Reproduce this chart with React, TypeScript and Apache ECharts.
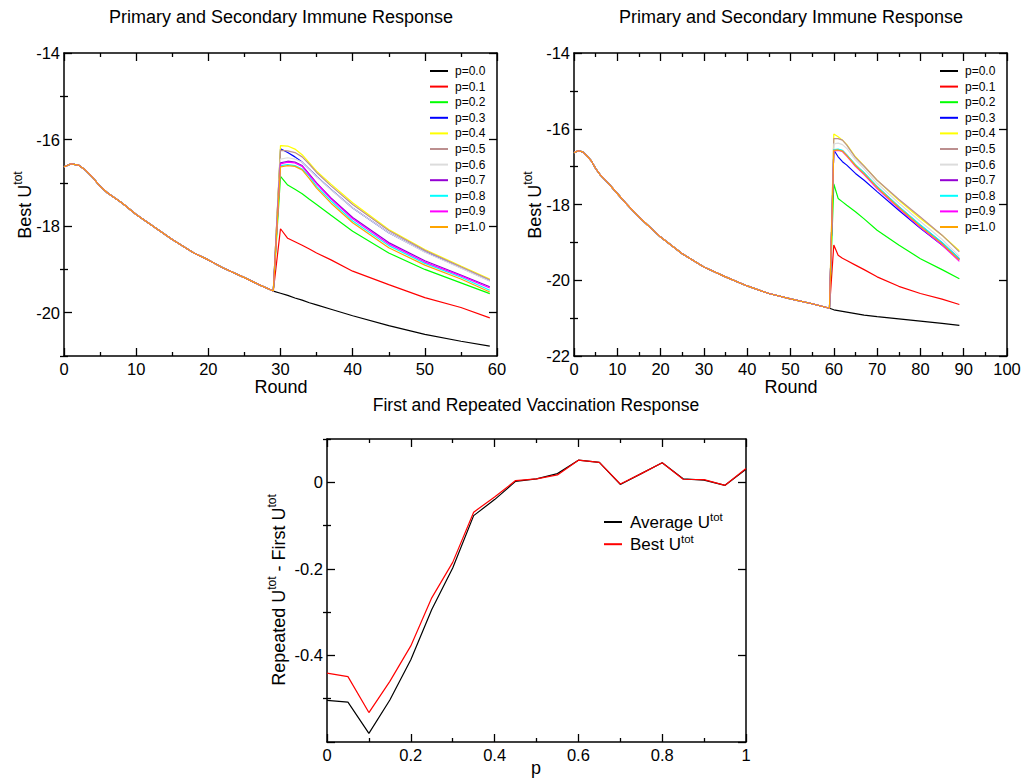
import React, { useEffect, useRef } from 'react';
import * as echarts from 'echarts';

const FONT = 'Liberation Sans, Arial, Helvetica, sans-serif';

const P_LABELS = ['p=0.0', 'p=0.1', 'p=0.2', 'p=0.3', 'p=0.4', 'p=0.5', 'p=0.6', 'p=0.7', 'p=0.8', 'p=0.9', 'p=1.0'];
const COLORS = ['#000000', '#ff0000', '#00ff00', '#0000ff', '#ffff00', '#bc8f8f', '#dcdcdc', '#9400d3', '#00ffff', '#ff00ff', '#ffa500'];

// ---- Top-left chart: vaccination at round 30 ----
const L_SHARED_ROUNDS = [0, 1, 2, 3, 4, 5, 6, 8, 10, 12, 15, 18, 20, 22, 25, 27, 29];
const L_SHARED = [-16.63, -16.56, -16.59, -16.71, -16.88, -17.08, -17.23, -17.46, -17.73, -17.96, -18.31, -18.62, -18.78, -18.96, -19.19, -19.35, -19.5];
const L_POST_ROUNDS = [30, 31, 32, 33, 34, 35, 37, 40, 45, 50, 55, 59];
const L_P00 = [-19.55, -19.6, -19.66, -19.71, -19.77, -19.82, -19.92, -20.07, -20.3, -20.5, -20.66, -20.77];
const L_P01 = [-18.06, -18.28, -18.36, -18.44, -18.53, -18.62, -18.78, -19.04, -19.35, -19.65, -19.88, -20.12];
const L_P02 = [-16.85, -17.05, -17.15, -17.25, -17.38, -17.5, -17.75, -18.12, -18.62, -19.0, -19.31, -19.56];
const L_P03 = [-16.21, -16.3, -16.4, -16.52, -16.68, -16.85, -17.15, -17.58, -18.15, -18.59, -18.96, -19.26];
const L_P04 = [-16.14, -16.15, -16.22, -16.35, -16.54, -16.73, -17.03, -17.46, -18.08, -18.54, -18.92, -19.22];
const L_P05 = [-16.25, -16.26, -16.3, -16.4, -16.57, -16.76, -17.07, -17.5, -18.1, -18.56, -18.94, -19.24];
const L_P06 = [-16.45, -16.42, -16.45, -16.52, -16.68, -16.86, -17.16, -17.58, -18.15, -18.6, -18.97, -19.27];
const L_P07 = [-16.54, -16.5, -16.52, -16.6, -16.8, -17.0, -17.35, -17.8, -18.38, -18.8, -19.13, -19.4];
const L_P08 = [-16.6, -16.58, -16.6, -16.68, -16.85, -17.08, -17.42, -17.88, -18.45, -18.86, -19.18, -19.48];
const L_P09 = [-16.56, -16.52, -16.54, -16.62, -16.82, -17.02, -17.37, -17.83, -18.41, -18.83, -19.15, -19.43];
const L_P10 = [-16.63, -16.6, -16.62, -16.7, -16.9, -17.12, -17.47, -17.92, -18.5, -18.9, -19.22, -19.52];

// ---- Top-right chart: vaccination at round 60 ----
const R_SHARED_ROUNDS = [0, 1, 2, 3, 4, 5, 6, 8, 10, 12, 15, 20, 25, 30, 35, 40, 45, 50, 55, 59];
const R_SHARED = [-16.63, -16.58, -16.61, -16.72, -16.85, -17.05, -17.21, -17.45, -17.71, -17.97, -18.33, -18.86, -19.3, -19.65, -19.91, -20.15, -20.35, -20.49, -20.62, -20.74];
const R_POST_ROUNDS = [60, 61, 62, 63, 65, 67, 70, 75, 80, 85, 89];
const R_P00 = [-20.78, -20.8, -20.82, -20.84, -20.88, -20.92, -20.96, -21.02, -21.08, -21.14, -21.19];
const R_P01 = [-19.07, -19.34, -19.42, -19.48, -19.6, -19.72, -19.91, -20.16, -20.35, -20.5, -20.64];
const R_P02 = [-17.46, -17.84, -17.93, -18.02, -18.19, -18.38, -18.68, -19.07, -19.43, -19.72, -19.96];
const R_P03 = [-16.56, -16.74, -16.87, -16.96, -17.18, -17.36, -17.66, -18.15, -18.63, -19.07, -19.45];
const R_P04 = [-16.14, -16.21, -16.3, -16.42, -16.74, -16.98, -17.36, -17.89, -18.37, -18.81, -19.22];
const R_P05 = [-16.26, -16.26, -16.3, -16.43, -16.76, -16.99, -17.36, -17.86, -18.33, -18.81, -19.25];
const R_P06 = [-16.4, -16.38, -16.42, -16.52, -16.82, -17.06, -17.44, -17.96, -18.45, -18.92, -19.37];
const R_P07 = [-16.56, -16.55, -16.58, -16.7, -16.96, -17.17, -17.53, -18.06, -18.55, -19.01, -19.43];
const R_P08 = [-16.55, -16.54, -16.57, -16.69, -16.95, -17.16, -17.52, -18.05, -18.54, -19.0, -19.43];
const R_P09 = [-16.58, -16.57, -16.6, -16.72, -16.99, -17.21, -17.58, -18.11, -18.61, -19.07, -19.5];
const R_P10 = [-16.57, -16.56, -16.59, -16.71, -16.97, -17.19, -17.55, -18.08, -18.58, -19.04, -19.47];

// ---- Bottom chart ----
const P_VALUES = [0, 0.05, 0.1, 0.15, 0.2, 0.25, 0.3, 0.35, 0.4, 0.45, 0.5, 0.55, 0.6, 0.65, 0.7, 0.75, 0.8, 0.85, 0.9, 0.95, 1.0];
const AVERAGE_DIFF = [-0.504, -0.508, -0.58, -0.503, -0.41, -0.294, -0.198, -0.077, -0.04, 0.002, 0.008, 0.02, 0.051, 0.046, -0.005, 0.02, 0.045, 0.008, 0.005, -0.007, 0.03];
const BEST_DIFF = [-0.441, -0.449, -0.532, -0.46, -0.378, -0.267, -0.185, -0.069, -0.034, 0.004, 0.008, 0.017, 0.051, 0.046, -0.004, 0.02, 0.045, 0.007, 0.006, -0.007, 0.032];

// ---- Tick values ----
const L_Y_LABELS = [-20, -18, -16, -14];
const L_Y_MINOR = [-21, -19, -17, -15];
const R_Y_LABELS = [-22, -20, -18, -16, -14];
const R_Y_MINOR = [-21, -19, -17, -15];
const B_Y_LABELS = [-0.4, -0.2, 0];
const B_Y_MAJOR = [-0.6, -0.4, -0.2, 0];
const B_Y_MINOR = [-0.5, -0.3, -0.1, 0.1];

const L_POSTS = [L_P00, L_P01, L_P02, L_P03, L_P04, L_P05, L_P06, L_P07, L_P08, L_P09, L_P10];
const R_POSTS = [R_P00, R_P01, R_P02, R_P03, R_P04, R_P05, R_P06, R_P07, R_P08, R_P09, R_P10];

const LS = { color: '#000', width: 1.3 };
const TICK_FONT = 16.5;

function xAxes(g: number, min: number, max: number, interval: number) {
  const common: any = {
    gridIndex: g, type: 'value', min, max, interval,
    splitLine: { show: false }, minorSplitLine: { show: false },
    axisLine: { show: true, onZero: false, lineStyle: { color: '#000', width: 1.5 } },
    axisTick: { show: true, inside: true, length: 8, lineStyle: LS },
    minorTick: { show: true, splitNumber: 2, length: 4, lineStyle: LS },
  };
  return [
    { ...common, position: 'bottom', axisLabel: { show: true, color: '#000', fontSize: TICK_FONT, fontFamily: FONT, margin: 4 } },
    { ...common, position: 'top', axisLabel: { show: false } },
  ];
}

function yAxes(g: number, min: number, max: number, labels: number[], majors: number[], minors: number[]) {
  const base: any = { gridIndex: g, type: 'value', min, max, splitLine: { show: false }, minorSplitLine: { show: false } };
  const major = (pos: string, showLabel: boolean) => ({
    ...base, position: pos,
    axisLine: { show: true, onZero: false, lineStyle: { color: '#000', width: 1.5 } },
    axisTick: { show: true, inside: true, length: 8, customValues: majors, lineStyle: LS },
    axisLabel: showLabel
      ? { show: true, customValues: labels, color: '#000', fontSize: TICK_FONT, fontFamily: FONT, margin: 4 }
      : { show: false },
  });
  const minor = (pos: string) => ({
    ...base, position: pos,
    axisLine: { show: false },
    axisTick: { show: true, inside: true, length: 4, customValues: minors, lineStyle: LS },
    axisLabel: { show: false },
  });
  return [major('left', true), minor('left'), major('right', false), minor('right')];
}

function immuneSeries(sharedX: number[], shared: number[], postX: number[], posts: number[][], xi: number, yi: number) {
  return P_LABELS.map((name, i) => ({
    type: 'line', name, xAxisIndex: xi, yAxisIndex: yi,
    symbol: 'none', showSymbol: false, silent: true, emphasis: { disabled: true },
    lineStyle: { color: COLORS[i], width: 1.2 }, itemStyle: { color: COLORS[i] },
    data: sharedX.map((x, k) => [x, shared[k]]).concat(postX.map((x, k) => [x, posts[i][k]])),
  }));
}

const RICH = {
  a: { fontSize: 18, fontFamily: FONT, fill: '#000', lineHeight: 26, verticalAlign: 'middle' },
  s: { fontSize: 12, fontFamily: FONT, fill: '#000', lineHeight: 8, verticalAlign: 'top' },
};

function title(text: string, x: number, y: number, size: number) {
  return { type: 'text', x, y, silent: true, style: { text, fontSize: size, fontFamily: FONT, fill: '#000', align: 'center', verticalAlign: 'middle' } };
}

function richLabel(text: string, x: number, y: number, rot: number) {
  return { type: 'text', x, y, rotation: rot, silent: true, style: { text, rich: RICH, fontSize: 18, fontFamily: FONT, fill: '#000', align: 'center', verticalAlign: 'middle' } };
}

const HIDDEN_SYMBOL = { color: 'rgba(0,0,0,0)', borderColor: 'rgba(0,0,0,0)', borderWidth: 0, opacity: 0 };

export default function App() {
  const ref = useRef<HTMLDivElement>(null);
  useEffect(() => {
    if (!ref.current) return;
    const chart = echarts.init(ref.current, undefined, { renderer: 'svg' });

    const bottomSeries = [
      { name: 'Average U', data: AVERAGE_DIFF, color: '#000000' },
      { name: 'Best U', data: BEST_DIFF, color: '#ff0000' },
    ].map((s) => ({
      type: 'line', name: s.name, xAxisIndex: 4, yAxisIndex: 8,
      symbol: 'none', showSymbol: false, silent: true, emphasis: { disabled: true },
      lineStyle: { color: s.color, width: 1.2 }, itemStyle: { color: s.color },
      data: P_VALUES.map((p, k) => [p, s.data[k]]),
    }));

    const legendCommon: any = {
      orient: 'vertical', padding: 0, itemWidth: 18, itemHeight: 12, itemGap: 3.6,
      selectedMode: false, itemStyle: HIDDEN_SYMBOL,
      textStyle: { fontSize: 12, lineHeight: 12, fontFamily: FONT, color: '#000', padding: [0, 0, 0, 2] },
      data: P_LABELS,
    };

    chart.setOption({
      animation: false,
      backgroundColor: '#fff',
      grid: [
        { left: 64, top: 53, width: 433, height: 303, outerBoundsMode: 'none', containLabel: false },
        { left: 574, top: 53, width: 433, height: 303, outerBoundsMode: 'none', containLabel: false },
        { left: 327, top: 439, width: 419, height: 303, outerBoundsMode: 'none', containLabel: false },
      ],
      xAxis: [
        ...xAxes(0, 0, 60, 10),
        ...xAxes(1, 0, 100, 10),
        ...xAxes(2, 0, 1, 0.2),
      ],
      yAxis: [
        ...yAxes(0, -21, -14, L_Y_LABELS, L_Y_LABELS, L_Y_MINOR),
        ...yAxes(1, -22, -14, R_Y_LABELS, R_Y_LABELS, R_Y_MINOR),
        ...yAxes(2, -0.6, 0.1, B_Y_LABELS, B_Y_MAJOR, B_Y_MINOR),
      ],
      legend: [
        { ...legendCommon, left: 429, top: 65 },
        { ...legendCommon, left: 939, top: 65 },
        {
          orient: 'vertical', padding: 0, itemWidth: 18, itemHeight: 22, itemGap: 2.4, selectedMode: false,
          left: 603, top: 511, itemStyle: HIDDEN_SYMBOL,
          data: ['Average U', 'Best U'],
          formatter: (name: string) => `{a|${name}}{s|tot}`,
          textStyle: {
            fontSize: 17, fontFamily: FONT, color: '#000', padding: [0, 0, 0, 3],
            rich: {
              a: { fontSize: 17, fontFamily: FONT, color: '#000', lineHeight: 22, verticalAlign: 'middle' },
              s: { fontSize: 11.5, fontFamily: FONT, color: '#000', lineHeight: 8, verticalAlign: 'top' },
            },
          },
        },
      ],
      series: [
        ...immuneSeries(L_SHARED_ROUNDS, L_SHARED, L_POST_ROUNDS, L_POSTS, 0, 0),
        ...immuneSeries(R_SHARED_ROUNDS, R_SHARED, R_POST_ROUNDS, R_POSTS, 2, 4),
        ...bottomSeries,
      ],
      graphic: [
        title('Primary and Secondary Immune Response', 281, 17, 18),
        title('Primary and Secondary Immune Response', 791, 17, 18),
        title('First and Repeated Vaccination Response', 536, 405, 17.5),
        title('Round', 281, 387, 18),
        title('Round', 791, 387, 18),
        title('p', 536, 768, 18),
        richLabel('{a|Best U}{s|tot}', 25, 205, Math.PI / 2),
        richLabel('{a|Best U}{s|tot}', 535, 205, Math.PI / 2),
        richLabel('{a|Repeated U}{s|tot}{a| - First U}{s|tot}', 279, 590, Math.PI / 2),
      ],
    });
    return () => chart.dispose();
  }, []);
  return <div ref={ref} style={{ position: 'absolute', left: 0, top: 0, width: 1027, height: 780 }} />;
}
